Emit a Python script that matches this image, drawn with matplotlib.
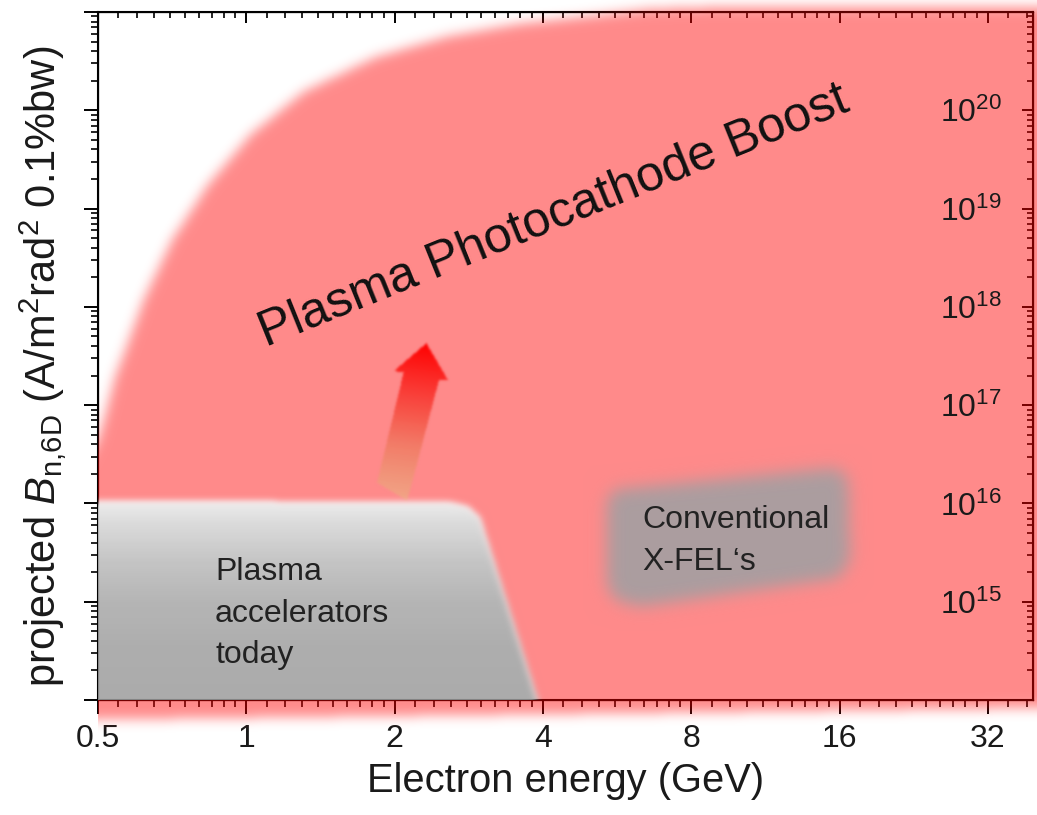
import numpy as np
import matplotlib
matplotlib.use("Agg")
import matplotlib.pyplot as plt
from matplotlib.path import Path
from matplotlib.ticker import FixedLocator, NullFormatter, NullLocator, LogLocator

plt.rcParams['font.family'] = ['Liberation Sans', 'DejaVu Sans']
plt.rcParams['mathtext.fontset'] = 'custom'
plt.rcParams['mathtext.rm'] = 'Liberation Sans'
plt.rcParams['mathtext.it'] = 'Liberation Sans:italic'
plt.rcParams['mathtext.bf'] = 'Liberation Sans:bold'
plt.rcParams['mathtext.sf'] = 'Liberation Sans'

# ---------------- data ----------------
energy_ticks = [0.5, 1, 2, 4, 8, 16, 32]
energy_tick_labels = ["0.5", "1", "2", "4", "8", "16", "32"]
energy_range = (0.5, 39.5)
brightness_range = (1e14, 1e21)
brightness_label_exponents = [15, 16, 17, 18, 19, 20]

# "Plasma Photocathode Boost" region (GeV, log10 brightness)
boost_energy = [0.46, 0.46, 0.50, 0.517, 0.541, 0.570, 0.620, 0.707, 0.836,
                1.02, 1.31, 1.83, 2.56, 3.58, 4.99, 6.6, 9.15, 40.8, 40.8]
boost_log_brightness = [13.80, 16.30, 16.65, 16.90, 17.28, 17.58, 18.08, 18.68,
                        19.24, 19.75, 20.19, 20.54, 20.75, 20.88, 20.96, 21.03,
                        21.05, 21.05, 13.92]

# "Plasma accelerators today" region
today_energy = [0.46, 2.60, 2.82, 2.97, 4.0, 0.46]
today_log_brightness = [16.02, 16.00, 15.96, 15.85, 13.80, 13.80]

# "Conventional X-FEL's" region
xfel_energy = [5.40, 5.60, 15.7, 16.65, 16.8, 15.9, 6.3, 5.6, 5.40]
xfel_log_brightness = [16.03, 16.14, 16.36, 16.26, 15.42, 15.24, 14.95, 15.02, 15.17]

# boost arrow (tail -> tip)
arrow_energy = [2.12, 2.32]
arrow_log_brightness = [16.03, 17.63]

# ---------------- figure ----------------
W, H = 1037, 815
fig = plt.figure(figsize=(W / 100, H / 100), dpi=100)
rect = [98 / W, 1 - 700 / H, (1033 - 98) / W, (700 - 12) / H]
ax = fig.add_axes(rect, zorder=0)
ax.set_xscale('log', base=2)
ax.set_yscale('log')
ax.set_xlim(*energy_range)
ax.set_ylim(*brightness_range)

minor_x = [t * (1 + k / 10) for t in energy_ticks for k in range(1, 10)]
minor_x = [m for m in minor_x if energy_range[0] < m < energy_range[1]]

def set_x_ticks(a):
    a.xaxis.set_major_locator(FixedLocator(energy_ticks))
    a.xaxis.set_minor_locator(FixedLocator(minor_x))
    a.xaxis.set_minor_formatter(NullFormatter())

def set_y_ticks(a):
    a.yaxis.set_major_locator(LogLocator(base=10, numticks=30))
    a.yaxis.set_minor_locator(LogLocator(base=10, subs=np.arange(2, 10), numticks=30))
    a.yaxis.set_major_formatter(NullFormatter())
    a.yaxis.set_minor_formatter(NullFormatter())

set_x_ticks(ax)
ax.set_xticks(energy_ticks, labels=energy_tick_labels)
set_y_ticks(ax)
ax.tick_params(which='major', direction='out', length=10, width=1.4,
               labelsize=23, labelcolor='#1a1a1a', pad=7)
ax.tick_params(which='minor', direction='out', length=5, width=1.2)
for s in ax.spines.values():
    s.set_linewidth(1.5)
ax.set_xlabel("Electron energy (GeV)", fontsize=28.7, color='#1a1a1a', labelpad=6)
ax.set_ylabel(r"projected $B_{\mathrm{n{,}6D}}$ (A/m$^2$rad$^2$ 0.1%bw)",
              fontsize=30, color='#1a1a1a')
ax.yaxis.set_label_coords(-0.031, 0.485)

axr = ax.twinx()
axr.set_yscale('log')
axr.set_ylim(*brightness_range)
set_y_ticks(axr)
axr.tick_params(axis='y', which='major', direction='in', length=8, width=1.4,
                labelright=False)
axr.tick_params(axis='y', which='minor', direction='in', length=4, width=1.2)

axt = ax.twiny()
axt.set_xscale('log', base=2)
axt.set_xlim(*energy_range)
set_x_ticks(axt)
axt.xaxis.set_major_formatter(NullFormatter())
axt.tick_params(axis='x', which='major', direction='in', length=8, width=1.4,
                labeltop=False)
axt.tick_params(axis='x', which='minor', direction='in', length=4, width=1.2)

# ---------------- soft-edged regions (raster layer) ----------------
tr = ax.transData
xs = np.arange(W) + 0.5
ys = np.arange(H) + 0.5
X, Y = np.meshgrid(xs, ys)
pts = np.column_stack([X.ravel(), Y.ravel()])
(x0, y0), (x1, y1) = ax.transAxes.transform([(0, 0), (1, 1)])


def region_mask(E, logB):
    v = tr.transform(np.column_stack([E, 10.0 ** np.asarray(logB)]))
    v = np.vstack([v, v[:1]])
    return Path(v, closed=True).contains_points(pts).reshape(H, W).astype(float)


def blur(a, sigma):
    r = max(1, int(3 * sigma))
    k = np.exp(-0.5 * (np.arange(-r, r + 1) / sigma) ** 2)
    k /= k.sum()
    p = np.pad(a, ((0, 0), (r, r)), mode='edge')
    out = np.zeros_like(a)
    for i, w in enumerate(k):
        out += w * p[:, i:i + a.shape[1]]
    p = np.pad(out, ((r, r), (0, 0)), mode='edge')
    out2 = np.zeros_like(a)
    for i, w in enumerate(k):
        out2 += w * p[i:i + a.shape[0], :]
    return out2


red_m = blur(region_mask(boost_energy, boost_log_brightness), 6.0)
gray_m = blur(region_mask(today_energy, today_log_brightness), 3.5)
gray_m[Y < y0] = 0
xfel_m = blur(region_mask(xfel_energy, xfel_log_brightness), 8.0)

# arrow polygon in pixel units along its axis
T = tr.transform((arrow_energy[0], 10 ** arrow_log_brightness[0]))
P = tr.transform((arrow_energy[1], 10 ** arrow_log_brightness[1]))
L = np.hypot(*(P - T))
u = (P - T) / L
n = np.array([u[1], -u[0]])
shape_st = [(1.0, 0.0), (0.785, 26.0), (0.778, 17.0), (0.143, 3.3), (0.0, 0.0),
            (0.089, -32.0), (0.80, -19.0), (0.80, -29.0)]
arrow_verts = np.array([T + s * L * u + t * n for s, t in shape_st])
arrow_verts = np.vstack([arrow_verts, arrow_verts[:1]])
arrow_m = Path(arrow_verts, closed=True).contains_points(pts).reshape(H, W).astype(float)
arrow_m = blur(arrow_m, 1.2)
s_frac = np.clip(((X - T[0]) * u[0] + (Y - T[1]) * u[1]) / L, 0, 1)

rgb = np.zeros((H, W, 3))
alpha = np.zeros((H, W))


def over(color, a):
    global rgb, alpha
    rgb = color * a[..., None] + rgb * (1 - a[..., None])
    alpha = a + alpha * (1 - a)


# red boost area
over(np.array([1.0, 0.0, 0.0]), 0.46 * red_m * (1 - gray_m))
# arrow with colour gradient
acol = np.dstack([np.interp(s_frac, [0, 0.35, 0.7, 1], [0.94, 0.95, 0.98, 1.0]),
                  np.interp(s_frac, [0, 0.35, 0.7, 1], [0.66, 0.48, 0.22, 0.0]),
                  np.interp(s_frac, [0, 0.35, 0.7, 1], [0.52, 0.40, 0.20, 0.0])])
over(acol, arrow_m * np.interp(s_frac, [0, 0.3, 1], [0.85, 0.97, 1.0]))
# conventional XFEL blob
over(np.array([0.635, 0.625, 0.635]), 0.9 * xfel_m)
# plasma accelerators today: vertical grey gradient
vrow = np.log10(tr.inverted().transform(np.column_stack([np.full(H, x0 + 1), ys]))[:, 1])
target = np.interp(vrow, [14.0, 14.5, 15.0, 15.4, 15.8, 16.05],
                   [0.67, 0.68, 0.71, 0.77, 0.86, 0.94])
gcol = np.clip((target - 0.15) / 0.85, 0, 1)
gcol = np.repeat(gcol[:, None], W, axis=1)
over(np.dstack([gcol, gcol, gcol]), 0.85 * gray_m)

alpha[X < x0] = 0
straight = np.where(alpha[..., None] > 1e-6, rgb / np.maximum(alpha[..., None], 1e-6), 0)
rgba = np.dstack([np.clip(straight, 0, 1), np.clip(alpha, 0, 1)])
fig.figimage(rgba, xo=0, yo=0, origin='lower', zorder=1)

# ---------------- text layer ----------------
axo = fig.add_axes(rect, zorder=2)
axo.set_facecolor('none')
axo.set_xscale('log', base=2)
axo.set_yscale('log')
axo.set_xlim(*energy_range)
axo.set_ylim(*brightness_range)
for s in axo.spines.values():
    s.set_visible(False)
axo.xaxis.set_major_locator(NullLocator())
axo.xaxis.set_minor_locator(NullLocator())
axo.yaxis.set_major_locator(FixedLocator([10.0 ** e for e in brightness_label_exponents]))
axo.yaxis.set_minor_locator(NullLocator())
axo.set_yticklabels([rf"$10^{{{e}}}$" for e in brightness_label_exponents])
axo.tick_params(axis='y', which='major', left=False, right=True, labelleft=False,
                labelright=True, length=0, pad=-67, labelsize=23, labelcolor='#1a1a1a')

axo.text(4.22, 10 ** 18.92, "Plasma Photocathode Boost", rotation=22,
         rotation_mode='anchor', ha='center', va='center', fontsize=36, color='#111111')
axo.text(0.864, 10 ** 14.88, "Plasma\naccelerators\ntoday", ha='left', va='center',
         fontsize=23, linespacing=1.49, color='#222222')
axo.text(6.36, 10 ** 15.62, "Conventional\nX-FEL\u2018s", ha='left', va='center',
         fontsize=23, linespacing=1.54, color='#222222')

fig.savefig("out.png", dpi=100)
